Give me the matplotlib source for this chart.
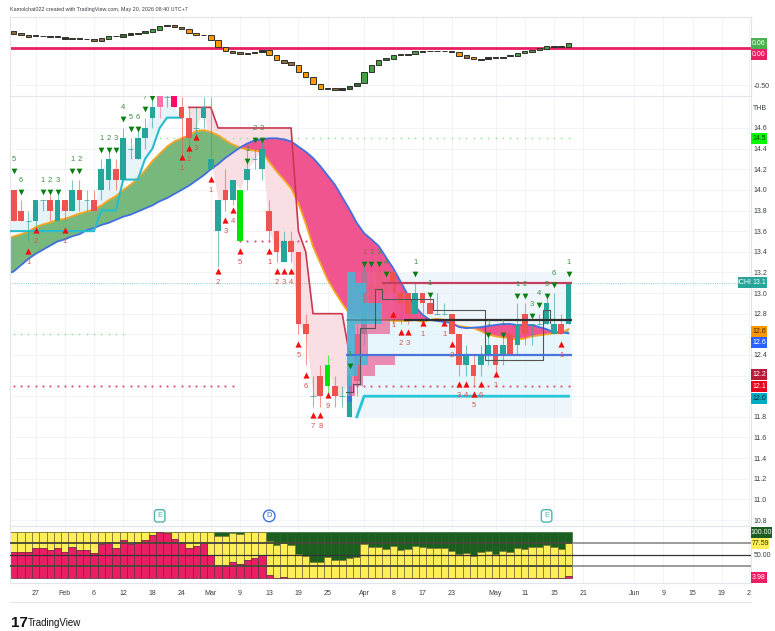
import matplotlib
matplotlib.use('Agg')
import matplotlib.pyplot as plt
from matplotlib.patches import Rectangle
import numpy as np

plt.rcParams['font.family'] = ['Liberation Sans', 'DejaVu Sans']

W = 775
H = 631

opens = [14.0,13.8,13.7,13.7,13.9,13.9,13.7,13.9,13.8,14.0,13.9,13.9,14.0,14.1,14.2,14.1,14.4,14.3,14.5,14.7,14.95,14.9,14.95,14.8,14.7,14.6,14.7,14.2,13.6,14.0,13.9,13.5,14.1,14.3,14.2,13.8,13.6,13.3,13.5,13.4,12.7,12.0,12.2,12.1,12.1,12.0,11.8,12.6,12.6,13.1,13.2,13.1,13.2,13.0,13.0,12.8,13.0,12.9,12.8,12.8,12.8,12.6,12.3,12.3,12.3,12.4,12.5,12.4,12.6,12.5,12.8,12.7,12.7,12.7,12.6,12.7,12.7]
closes = [13.7,13.7,13.7,13.9,13.9,13.8,13.9,13.8,14.0,13.9,13.9,13.8,14.2,14.3,14.1,14.5,14.4,14.5,14.6,14.8,14.8,14.9,14.8,14.7,14.5,14.6,14.8,14.3,13.9,13.9,14.1,14.0,14.2,14.3,14.4,13.6,13.4,13.5,13.4,12.7,12.6,12.0,12.0,12.3,12.0,12.0,12.2,12.15,13.2,12.9,13.0,13.0,13.0,12.9,12.8,13.0,12.9,12.8,12.8,12.8,12.6,12.3,12.4,12.2,12.4,12.5,12.3,12.5,12.4,12.7,12.6,12.7,12.7,12.9,12.7,12.6,13.1]
highs = [14.0,13.9,13.8,13.9,13.9,13.95,14.0,13.9,14.1,14.1,14.0,14.0,14.3,14.4,14.3,14.6,14.5,14.6,14.7,14.9,14.95,14.95,14.95,14.9,14.8,14.8,14.9,14.9,13.9,14.2,14.1,14.0,14.4,14.4,14.5,13.9,13.6,13.6,13.6,13.4,12.8,12.2,12.3,12.4,12.2,12.1,12.2,12.7,13.3,13.3,13.25,13.2,13.2,13.1,13.0,13.1,13.0,13.0,13.0,12.9,12.8,12.6,12.5,12.4,12.5,12.6,12.5,12.6,12.6,12.9,12.9,12.7,12.8,13.0,13.0,12.8,13.1]
lows = [13.7,13.7,13.5,13.65,13.8,13.7,13.7,13.7,13.8,13.8,13.8,13.8,13.9,14.0,14.0,14.1,14.3,14.3,14.4,14.6,14.7,14.8,14.8,14.35,14.35,14.5,14.6,14.2,13.25,13.8,13.85,13.5,14.0,14.2,14.1,13.5,13.3,13.3,13.3,12.6,12.3,11.9,11.9,12.0,11.9,11.9,11.8,12.0,12.5,12.8,12.9,12.9,12.7,12.7,12.7,12.8,12.8,12.8,12.8,12.8,12.6,12.2,12.2,12.1,12.2,12.3,12.2,12.3,12.4,12.4,12.5,12.5,12.7,12.7,12.6,12.6,12.7]
special_candles = {20: '#ff6fa8', 22: '#ff0a64', 31: '#00e600', 43: '#00e600'}

# first value of both emas sits one bar left of the first candle
ema_fast = [13.52,13.55,13.57,13.595,13.64,13.665,13.685,13.71,13.72,13.745,13.77,13.79,13.81,13.85,13.90,13.94,14.0,14.05,14.11,14.19,14.28,14.35,14.42,14.47,14.50,14.53,14.57,14.58,14.56,14.53,14.48,14.44,14.41,14.39,14.38,14.37,14.27,14.18,14.10,14.015,13.87,13.675,13.45,13.29,13.13,13.01,12.90,12.80,12.78,12.77,12.76,12.75,12.74,12.73,12.73,12.73,12.74,12.72,12.74,12.75,12.74,12.70,12.68,12.67,12.66,12.63,12.60,12.58,12.57,12.56,12.55,12.56,12.58,12.59,12.60,12.61,12.61,12.65]
ema_slow = [13.18,13.21,13.27,13.33,13.38,13.42,13.46,13.50,13.52,13.55,13.57,13.61,13.63,13.66,13.68,13.71,13.74,13.76,13.79,13.82,13.85,13.89,13.92,13.96,14.0,14.04,14.09,14.14,14.20,14.25,14.31,14.36,14.41,14.45,14.48,14.49,14.50,14.50,14.49,14.47,14.42,14.37,14.31,14.23,14.14,14.05,13.93,13.81,13.68,13.58,13.52,13.456,13.346,13.24,13.11,12.98,12.87,12.79,12.74,12.73,12.72,12.71,12.67,12.66,12.665,12.67,12.68,12.69,12.70,12.70,12.69,12.69,12.69,12.67,12.65,12.62,12.62,12.61]

cyan_stop = [13.6]*13 + [13.8]*3 + [14.1]*3 + [14.3,14.4,14.6,14.7,14.7,14.7]
red_stop = [14.8]*4 + [14.6]*11 + [13.6,13.4] + [12.8]*5 + [12.4]
low_stop = [11.8] + [12.0]*29

stair_x = [45.5,46.5,47.5,49.5,50.5,57.5,64.5,72.5,73.5]
stair_y = [12.04,12.12,12.66,13.04,12.94,12.84,12.35,12.84,12.71]

row_price = [13.15,13.05,12.95,12.85,12.75,12.65,12.55,12.45,12.35,12.25,12.15,12.05]
row_up = [1.1,2.7,2.2,4.9,4.9,1.2,1.2,1.2,2.9,1.6,0.8,0.3]
row_total = [6.0,6.4,6.5,6.6,6.0,6.0,3.0,3.0,6.6,3.9,2.2,1.2]

sell_x = [0,1,4,5,6,8,9,12,13,14,15,16,17,18,19,32,33,34,46,48,49,50,51,55,57,65,67,69,70,71,72,73,74,76]
sell_y = [14.18,13.98,13.98,13.98,13.98,14.18,14.18,14.39,14.39,14.39,14.69,14.59,14.59,14.78,14.89,14.28,14.48,14.48,12.29,13.28,13.28,13.28,13.18,13.18,12.98,12.59,12.59,12.97,12.97,12.78,12.88,12.97,13.08,13.18]
sell_n = ['5','6','1','2','3','1','2','1','2','3','4','5','6','7','8','1','2','3','1','1','2','3','4','1','1','1','1','1','2','3','4','5','6','1']
buy_x = [2,3,7,23,24,25,27,28,29,30,31,35,36,37,38,39,40,41,42,43,52,53,54,56,59,60,61,62,63,64,66,75]
buy_y = [13.41,13.61,13.61,14.315,14.41,14.51,14.11,13.21,13.71,13.805,13.41,13.41,13.21,13.21,13.21,12.51,12.21,11.82,11.82,12.01,12.80,12.62,12.62,12.71,12.71,12.51,12.12,12.12,12.02,12.12,12.215,12.51]
buy_n = ['1','2','1','1','2','3','1','2','3','4','5','1','2','3','4','5','6','7','8','9','1','2','3','1','1','2','3','4','5','6','1','1']

osc_top = [.222,.196,.178,.169,.164,.164,.156,.142,.133,.133,.124,.120,.133,.160,.164,.187,.196,.204,.222,.253,.298,.307,.302,.280,.253,.204,.178,.173,.107,.013,-.036,-.053,-.067,-.053,-.022,-.022,-.098,-.16,-.191,-.227,-.32,-.382,-.48,-.533,-.533,-.538,-.502,-.467,-.316,-.227,-.164,-.133,-.089,-.084,-.076,-.04,-.036,-.036,-.036,-.036,-.036,-.053,-.089,-.116,-.147,-.124,-.124,-.12,-.098,-.062,-.04,-.022,0,.031,.031,.031,.071]
osc_bot = [.187,.169,.151,.160,.156,.151,.142,.124,.124,.124,.116,.093,.098,.124,.156,.142,.178,.187,.196,.213,.244,.298,.276,.249,.2,.169,.169,.102,.009,-.044,-.062,-.084,-.08,-.071,-.053,-.098,-.164,-.2,-.227,-.32,-.387,-.484,-.547,-.542,-.56,-.556,-.551,-.511,-.467,-.32,-.227,-.164,-.142,-.093,-.093,-.08,-.049,-.044,-.044,-.044,-.053,-.102,-.129,-.151,-.156,-.151,-.138,-.138,-.111,-.111,-.071,-.053,-.031,-.013,.018,.013,.009]
osc_kind = 'bbbkkkkkbkkbbgkdkkdggkbbookooobbbkkoobbooookbkddgggdgkkgkkkkbobokkkkkgggbgkkg'
osc_colors = {'b': '#8d6e3f', 'k': '#26332a', 'g': '#43a047', 'd': '#2e6b37', 'o': '#ff9800'}

pink_val = [57,57,57,66,66,60,64.5,57,67,60,60,54,74,78,64.5,83,74,79,83,93,100,98.5,85.5,78,66,70,78,49,25,25,34,30,39,43,49,6.5,0,2] + [0]*38 + [3.98]
yellow_top = [100]*28 + [91,91,98,95,100,100,100,80,72,76,72,53,48.5,35.5,35.5,45.5,38.5,38.5,43.5,46.5,73,68,68,63,69,60,64,69.5,66.5,64.5,64.5,64.5,58,51.5,54,48.5,56,58.5,53,58.5,56.5,64.5,63,66.5,66.5,72.5,66.5,64,77.59]

tick_pos = [3,7,11,15,19,23,27,31,35,39,43,48,52,56,60,66,70,74,78,85,89,93,97,100.7]
tick_labels = ['27','Feb','6','12','18','24','Mar','9','13','19','25','Apr','8','17','23','May','11','15','21','Jun','9','15','19','2']
price_ticks = [10.8,11.0,11.2,11.4,11.6,11.8,12.0,12.2,12.4,12.6,12.8,13.0,13.2,13.4,13.6,13.8,14.0,14.2,14.4,14.6]
price_labels = ['10.8','11.0','11.2','11.4','11.6','11.8','','','12.4','','12.8','13.0','13.2','13.4','13.6','13.8','14.0','14.2','14.4','14.6']

bars = np.arange(len(opens))
XL = (-0.507, 101.0)
GRID = '#f1f3f8'
BORDER = '#e3e5ec'
TEXT = '#3a3d45'
FS = 5


def px_axes(top, bottom):
    ax = fig.add_axes([10/W, 1-bottom/H, 741/W, (bottom-top)/H])
    ax.set_xlim(XL)
    ax.set_xticks(tick_pos)
    ax.set_xticklabels([])
    ax.tick_params(length=0, labelsize=FS, colors=TEXT)
    ax.yaxis.tick_right()
    ax.grid(True, color=GRID, linewidth=0.7)
    ax.set_axisbelow(True)
    for s in ax.spines.values():
        s.set_color(BORDER)
        s.set_linewidth(0.8)
    return ax


def tag(ax, y, text, bg, fg='white', left=751, width=16):
    # price flag drawn in figure coordinates so it can sit over the tick labels
    yf = ax.transData.transform((0, y))[1] / H
    fig.add_artist(Rectangle((left/W, yf-5.5/H), width/W, 11/H, transform=fig.transFigure,
                             facecolor=bg, edgecolor='none', zorder=5))
    fig.text((left+width/2)/W, yf, text, color=fg, fontsize=FS, ha='center', va='center', zorder=6)


fig = plt.figure(figsize=(W/100, H/100), dpi=100)

# oscillator
ax1 = px_axes(17, 96)
ax1.set_ylim(-0.64, 0.413)
ax1.set_yticks([-0.5])
ax1.set_yticklabels(['-0.50'])
ax1.tick_params(axis='y', pad=2)
ax1.axhline(0, color='#e91e63', linewidth=2, zorder=2)
top = np.array(osc_top)
bot = np.array(osc_bot)
ax1.bar(bars, top-bot, bottom=bot, width=0.76, color=[osc_colors[k] for k in osc_kind],
        edgecolor='#33302a', linewidth=0.7, zorder=3)
tag(ax1, 0.06, '0.06', '#4caf50')
tag(ax1, -0.093, '0.00', '#e91e63')

# main price panel
ax2 = px_axes(96, 526)
ax2.set_ylim(10.742, 14.91)
ax2.set_yticks(price_ticks)
ax2.set_yticklabels(price_labels)
ax2.tick_params(axis='y', pad=2)

ema_x = np.arange(-1, len(opens))
fast = np.array(ema_fast)
slow = np.array(ema_slow)
closes_a = np.array(closes)

# soft shading between the stops and the closes
ax2.fill_between(np.arange(-1, 24), cyan_stop, np.r_[closes_a[0], closes_a[:24]], color='#e6f3f8', linewidth=0, zorder=1)
ax2.fill_between(np.arange(24, 47), red_stop, closes_a[24:47], color='#f9dfe3', linewidth=0, zorder=1)
ax2.fill_between([45.5, 76.5], 11.8, 13.19, color='#d5e9f7', alpha=0.4, linewidth=0, zorder=1)
ax2.fill_between(np.arange(47, 77), low_stop, np.maximum(closes_a[47:77], 12.0), color='#e2f6fb', alpha=0.5, linewidth=0, zorder=1)

# dotted levels
ax2.scatter(np.arange(20, 77), [14.5]*57, s=1.5, color='#8ee88e', linewidths=0, zorder=1.5)
ax2.scatter(np.arange(0, 16), [12.6]*16, s=1.5, color='#8ee88e', linewidths=0, zorder=1.5)
ax2.scatter(np.arange(0, 31), [12.1]*31, s=2.5, color='#e0557a', linewidths=0, zorder=1.5)
ax2.scatter(np.arange(46, 77), [12.1]*31, s=2.5, color='#e0557a', linewidths=0, zorder=1.5)
ax2.scatter(np.arange(31, 42), [13.5]*11, s=2.5, color='#e0557a', linewidths=0, zorder=1.5)
ax2.axhline(13.1, xmax=0.984, color='#26a69a', linestyle=':', linewidth=0.6, alpha=0.7, zorder=1.5)

# ema cloud
ax2.fill_between(ema_x, fast, slow, where=fast >= slow, interpolate=True, color='#79b87c', linewidth=0, zorder=2)
ax2.fill_between(ema_x, fast, slow, where=fast < slow, interpolate=True, color='#f0558f', linewidth=0, zorder=2)
ax2.plot(ema_x, fast, color='#f5a623', linewidth=1.3, zorder=2.5)
ax2.plot(ema_x, slow, color='#3f6fe0', linewidth=1.3, zorder=2.5)

# stops
ax2.plot(np.arange(-1, 24), cyan_stop, color='#26bccf', linewidth=1.5, zorder=2.6)
ax2.plot(np.arange(24, 47), red_stop, color='#c8384f', linewidth=1.2, zorder=2.6)
ax2.plot(np.arange(47, 77), low_stop, color='#26c6da', linewidth=2, zorder=2.6)

# candles
for i in bars:
    up = closes[i] >= opens[i]
    col = special_candles.get(i, '#26a69a' if up else '#ef5350')
    ax2.vlines(i, lows[i], highs[i], color=col, linewidth=0.8, alpha=0.6, zorder=3)
    if opens[i] == closes[i]:
        ax2.hlines(closes[i], i-0.38, i+0.38, color=col, linewidth=0.8, alpha=0.7, zorder=3.1)
    else:
        ax2.bar(i, abs(closes[i]-opens[i]), bottom=min(opens[i], closes[i]), width=0.78,
                color=col, linewidth=0, zorder=3.1)
ax2.bar(46, 0.26, bottom=11.94, width=0.78, color='#2f7fd6', linewidth=0, zorder=3.2)

# volume profile
for p, u, t in zip(row_price, row_up, row_total):
    ax2.barh(p, t, left=45.6, height=0.1, color='#ec5f94', alpha=0.7, linewidth=0, zorder=3.3)
    ax2.barh(p, u, left=45.6, height=0.1, color='#35bedc', alpha=0.8, linewidth=0, zorder=3.4)

# levels on top of the profile
ax2.step(stair_x, stair_y, where='post', color='#555555', linewidth=0.8, zorder=3.6)
ax2.hlines(13.1, 50.5, 76.5, color='#c2405f', linewidth=1.6, zorder=3.7)
ax2.hlines(12.4, 45.5, 76.5, color='#4a74d8', linewidth=1.6, zorder=3.7)
ax2.hlines(12.74, 45.5, 53.5, color='#333333', linewidth=1.2, alpha=0.35, zorder=3.7)
ax2.hlines(12.74, 53.5, 76.5, color='#2f2f2f', linewidth=1.6, zorder=3.7)

# sequential counts
ax2.scatter(sell_x, sell_y, marker='v', s=17, color='#087f0e', linewidths=0, zorder=4)
ax2.scatter(buy_x, buy_y, marker='^', s=20, color='#f20f0f', linewidths=0, zorder=4)
for x, y, n in zip(sell_x, sell_y, sell_n):
    ax2.annotate(n, (x, y), xytext=(0, 8.3), textcoords='offset points', ha='center', va='center',
                 fontsize=5.5, color='#3f8f45', zorder=4, clip_on=True)
for x, y, n in zip(buy_x, buy_y, buy_n):
    ax2.annotate(n, (x, y), xytext=(0, -8.3), textcoords='offset points', ha='center', va='center',
                 fontsize=5.5, color='#d9534f', zorder=4, clip_on=True)

# events
for x, s, c, box in [(20, 'E', '#4db6ac', 'round,pad=0.35'), (35, 'D', '#3f6fe0', 'circle,pad=0.3'), (73, 'E', '#4db6ac', 'round,pad=0.35')]:
    ax2.text(x, 10.84, s, color=c, fontsize=5.5, ha='center', va='center', zorder=5,
             bbox=dict(boxstyle=box, facecolor='white', edgecolor=c, linewidth=1))

tag(ax2, 14.79, 'THB', 'white', TEXT, left=752, width=16)
tag(ax2, 14.5, '14.5', '#00ff00', '#0c3b0c')
tag(ax2, 13.1, '13.1', '#26a69a')
tag(ax2, 13.1, 'ICHI', '#26a69a', left=738, width=13)
tag(ax2, 12.63, '12.6', '#ff9800', '#3a2a00')
tag(ax2, 12.516, '12.6', '#2962ff')
tag(ax2, 12.206, '12.2', '#b71c3c')
tag(ax2, 12.09, '12.1', '#e8001c')
tag(ax2, 11.98, '12.0', '#00acc1', '#06303a')

# stacked percent panel
ax3 = px_axes(526, 583)
ax3.set_ylim(-10.9, 113)
ax3.set_xticklabels(tick_labels)
ax3.tick_params(axis='x', pad=5)
ax3.set_yticks([50])
ax3.set_yticklabels(['50.00'])
ax3.tick_params(axis='y', pad=2)
pink = np.array(pink_val)
yel = np.array(yellow_top)
ax3.bar(bars, 100-yel, bottom=yel, width=1, color='#1b5e20', edgecolor='#1b5e20', linewidth=0.4, zorder=2)
ax3.bar(bars, yel-pink, bottom=pink, width=1, color='#ffee58', edgecolor='#6d6a2a', linewidth=0.5, zorder=2.1)
ax3.bar(bars, pink, width=1, color='#e91e63', edgecolor='#6a2a3f', linewidth=0.5, zorder=2.2)
ax3.axhline(75, color='#808080', linewidth=1.1, zorder=3)
ax3.axhline(25, color='#808080', linewidth=1.1, zorder=3)
ax3.axhline(50, color='#333333', linewidth=0.9, zorder=3)
ax3.hlines([75, 25], XL[0], 76.5, color='#3d3d2a', linewidth=1.1, zorder=3.1)
tag(ax3, 98.8, '100.00', '#1b5e20', width=21)
tag(ax3, 73.9, '77.59', '#ffee58', '#33300a', width=18)
tag(ax3, 2, '3.98', '#e91e63')

fig.add_artist(plt.Line2D([10/W, 751/W], [1-602/H, 1-602/H], color=BORDER, linewidth=0.8))
fig.text(10/W, 1-9/H, 'Kamolchai022 created with TradingView.com, May 20, 2026 08:40 UTC+7', fontsize=3.9,
         color=TEXT, ha='left', va='center')
fig.text(11/W, 1-623/H, '17', fontsize=11, fontweight='bold', color='#111111', ha='left', va='center')
fig.text(28/W, 1-623/H, 'TradingView', fontsize=7, color='#111111', ha='left', va='center')

fig.savefig('out.png', dpi=100)
